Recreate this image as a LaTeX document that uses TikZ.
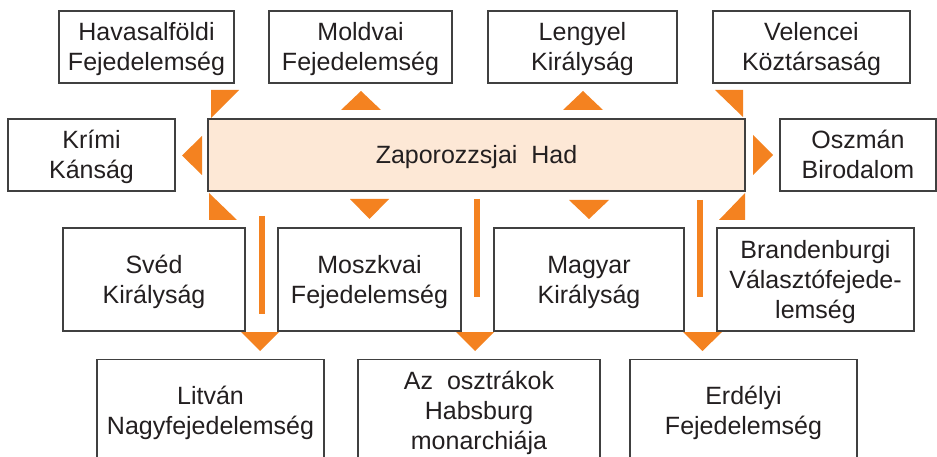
\documentclass[tikz,border=0pt]{standalone}
\usepackage{fontspec}
\setmainfont{Liberation Sans}
\definecolor{orng}{RGB}{244,130,32}
\definecolor{peach}{RGB}{253,232,214}
\definecolor{ink}{RGB}{35,31,32}
\definecolor{edgec}{RGB}{64,64,64}
\newcommand\lnstrut{\rule[-6.3pt]{0pt}{30pt}}
\begin{document}
\begin{tikzpicture}[x=1pt,y=-1pt,
  box/.style={draw=edgec, line width=1.3pt, rectangle, inner sep=0pt, align=center,
    text=ink, font=\fontsize{25}{30}\selectfont},
  top/.style={box, minimum height=72pt},
  mid/.style={box, minimum height=103pt},
  tri/.style={fill=orng, draw=none},
  bar/.style={draw=orng, line width=5.5pt}]
\clip (0,0) rectangle (937,457);
\fill[white] (0,0) rectangle (937,457);
% top row
\node[top, minimum width=175pt] (hav) at (146.5,47) {\lnstrut Havasalföldi\\\lnstrut Fejedelemség};
\node[top, minimum width=183pt] (mol) at (360.5,47) {\lnstrut Moldvai\\\lnstrut Fejedelemség};
\node[top, minimum width=189pt] (len) at (582.5,47) {\lnstrut Lengyel\\\lnstrut Királyság};
\node[top, minimum width=197pt] (vel) at (811.5,47) {\lnstrut Velencei\\\lnstrut Köztársaság};
% middle row
\node[top, minimum width=167pt] (kri) at (91.5,155) {\lnstrut Krími\\\lnstrut Kánság};
\node[top, minimum width=537pt, fill=peach] (zap) at (476.5,155) {\lnstrut Zaporozzsjai\hspace{0.556em}Had};
\node[top, minimum width=156pt] (osz) at (858,155) {\lnstrut Oszmán\\\lnstrut Birodalom};
% third row
\node[mid, minimum width=182pt] (sve) at (154,279.5) {\lnstrut Svéd\\\lnstrut Királyság};
\node[mid, minimum width=183pt] (mos) at (369.5,279.5) {\lnstrut Moszkvai\\\lnstrut Fejedelemség};
\node[mid, minimum width=190pt] (mag) at (589,279.5) {\lnstrut Magyar\\\lnstrut Királyság};
\node[mid, minimum width=197pt] (bra) at (815.5,279.5) {\lnstrut Brandenburgi\\\lnstrut Választófejede-\\\lnstrut lemség};
% bottom row
\node[mid, minimum width=227pt] (lit) at (210.5,411) {\lnstrut Litván\\\lnstrut Nagyfejedelemség};
\node[mid, minimum width=242pt] (ausz) at (479,411) {\lnstrut Az\hspace{0.556em}osztrákok\\\lnstrut Habsburg\\\lnstrut monarchiája};
\node[mid, minimum width=227pt] (erd) at (743.5,411) {\lnstrut Erdélyi\\\lnstrut Fejedelemség};
% arrowheads around the central box
\fill[tri] (211,90) -- (239,90) -- (211,118) -- cycle;      % to hav
\fill[tri] (341,110) -- (381,110) -- (361,91) -- cycle;     % to mol
\fill[tri] (563,110) -- (603,110) -- (583,91) -- cycle;     % to len
\fill[tri] (715,90) -- (743,90) -- (743,117) -- cycle;      % to vel
\fill[tri] (202,136) -- (202,175) -- (182,155.5) -- cycle;  % to kri
\fill[tri] (753,135) -- (753,175) -- (773,155) -- cycle;    % to osz
\fill[tri] (209,193) -- (209,220) -- (237,220) -- cycle;    % to sve
\fill[tri] (350,199) -- (389,199) -- (369.5,219) -- cycle;  % to mos
\fill[tri] (569,200) -- (609,200) -- (589,219) -- cycle;    % to mag
\fill[tri] (745,193) -- (745,220) -- (719,220) -- cycle;    % to bra
% long connectors to the bottom row
\coordinate (b1s) at (262,216);   \coordinate (b1e) at (262,314);
\coordinate (b2s) at (477,199);   \coordinate (b2e) at (477,297);
\coordinate (b3s) at (700,200);   \coordinate (b3e) at (700,297);
\draw[bar] (b1s) -- (b1e);
\draw[bar] (b2s) -- (b2e);
\draw[bar] (b3s) -- (b3e);
\fill[tri] (241,332) -- (279,332) -- (260,351) -- cycle;    % to lit
\fill[tri] (456,332) -- (494,332) -- (475,351) -- cycle;    % to ausz
\fill[tri] (683,332) -- (722,332) -- (702.5,351) -- cycle;  % to erd
\end{tikzpicture}
\end{document}
